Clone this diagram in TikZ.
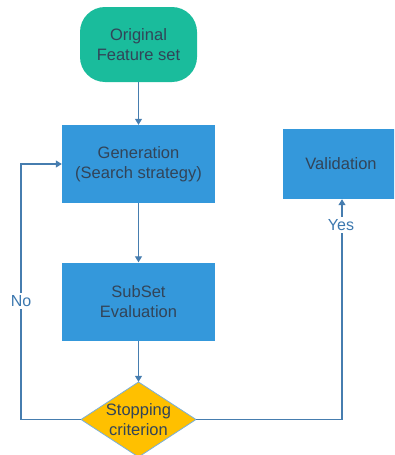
\documentclass[tikz,border=0pt]{standalone}
\usepackage{fontspec}
\setmainfont{Liberation Sans}
\usetikzlibrary{arrows.meta}
\definecolor{termfill}{RGB}{26,188,156}
\definecolor{procfill}{RGB}{52,152,219}
\definecolor{decfill}{RGB}{255,192,0}
\definecolor{decedge}{RGB}{120,175,220}
\definecolor{flowline}{RGB}{70,125,175}
\definecolor{labeltext}{RGB}{50,68,88}
\definecolor{edgetext}{RGB}{60,120,175}
\tikzset{
  boxtext/.style={text=labeltext, align=center, font=\fontsize{16.5}{19.5}\selectfont, inner sep=0pt},
  terminal/.style={boxtext, fill=termfill, rounded corners=25pt, minimum width=117pt, minimum height=75pt},
  process/.style={boxtext, fill=procfill, minimum width=153pt, minimum height=78pt},
  decisionbody/.style={fill=decfill, draw=decedge, line width=0.8pt, line join=miter},
  decision/.style={boxtext, minimum width=115pt, minimum height=75pt},
  flow/.style={draw=flowline, line width=1.2pt, -{Triangle[width=7pt,length=6pt]}},
  edgelabel/.style={text=edgetext, fill=white, inner sep=2pt, font=\fontsize{16}{19}\selectfont}
}
\begin{document}
\begin{tikzpicture}[x=1pt,y=-1pt]
  \useasboundingbox (0,0) rectangle (394,455);
  \clip (0,0) rectangle (394,455);

  % flowchart nodes
  \node[terminal] (orig) at (138.5,44.5) {Original\\Feature set};
  \node[process] (gen) at (138.5,164) {Generation\\(Search strategy)};
  \node[process] (sub) at (138.5,301.5) {SubSet\\Evaluation};
  \node[process, minimum width=117pt, minimum height=70pt] (val) at (341,164) {Validation};

  % decision diamond, 115 x 75, with its text on top
  \coordinate (stopc) at (138.5,419.5);
  \path[decisionbody] (stopc) ++(0,-37.5) -- ++(57.5,37.5) -- ++(-57.5,37.5) -- ++(-57.5,-37.5) -- cycle;
  \node[decision] (stop) at (stopc) {Stopping\\criterion};

  % corner points of the feedback loops
  \coordinate (noturn) at (21,419.5);
  \coordinate (noback) at (21,164);
  \coordinate (yesturn) at (342,419.5);

  % main flow
  \draw[flow] (orig) -- (gen);
  \draw[flow] (gen) -- (sub);
  \draw[flow] (sub) -- (stop.north);

  % "No" loop back to generation
  \draw[flow] (stop.west) -- (noturn) -- (noback) -- (gen.west);
  \node[edgelabel] (nolabel) at (21,301) {No};

  % "Yes" branch to validation
  \draw[flow] (stop.east) -- (yesturn) -- (val.south -| yesturn);
  \node[edgelabel] (yeslabel) at (341,225) {Yes};
\end{tikzpicture}
\end{document}
